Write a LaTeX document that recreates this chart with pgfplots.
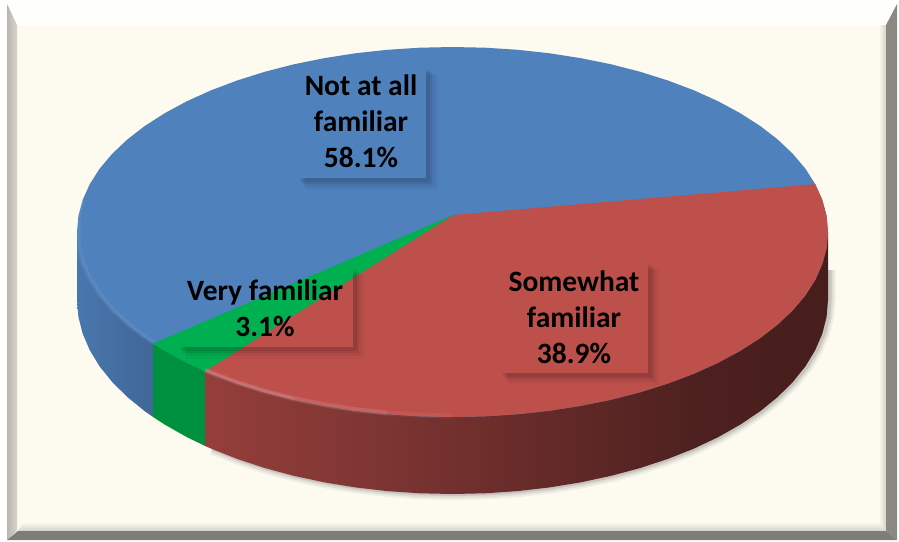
\documentclass[border=0pt]{standalone}
\usepackage{fontspec}
\setmainfont{Carlito}
\usepackage{pgfplots}
\usepackage{pgfplotstable}
\pgfplotsset{compat=1.18}

\definecolor{cream}{HTML}{FDFAF0}
\definecolor{pieblue}{HTML}{4F81BD}
\definecolor{piered}{HTML}{BE504C}
\definecolor{piegreen}{HTML}{00B050}
\definecolor{sidegreen}{HTML}{00913F}

\pgfdeclarehorizontalshading{redside}{100bp}{
  color(0bp)=(piered!78!black); color(25bp)=(piered!78!black);
  color(37bp)=(piered!68!black); color(53bp)=(piered!52!black);
  color(65bp)=(piered!40!black); color(75bp)=(piered!37!black);
  color(100bp)=(piered!37!black)}

% top ellipse, outline
\pgfplotstableread{
x y
828.0 232.0
826.6 248.1
822.3 264.1
815.2 279.9
805.4 295.3
792.8 310.2
777.7 324.5
760.1 338.1
740.1 350.9
718.0 362.8
693.9 373.7
667.9 383.5
640.3 392.2
611.2 399.7
580.9 405.8
549.7 410.7
517.7 414.2
485.2 416.3
452.5 417.0
419.8 416.3
387.3 414.2
355.3 410.7
324.1 405.8
293.8 399.7
264.7 392.2
237.1 383.5
211.1 373.7
187.0 362.8
164.9 350.9
144.9 338.1
127.3 324.5
112.2 310.2
99.6 295.3
89.8 279.9
82.7 264.1
78.4 248.1
77.0 232.0
78.4 215.9
82.7 199.9
89.8 184.1
99.6 168.7
112.2 153.8
127.3 139.5
144.9 125.9
164.9 113.1
187.0 101.2
211.1 90.3
237.1 80.5
264.7 71.8
293.8 64.3
324.1 58.2
355.3 53.3
387.3 49.8
419.8 47.7
452.5 47.0
485.2 47.7
517.7 49.8
549.7 53.3
580.9 58.2
611.2 64.3
640.3 71.8
667.9 80.5
693.9 90.3
718.0 101.2
740.1 113.1
760.1 125.9
777.7 139.5
792.8 153.8
805.4 168.7
815.2 184.1
822.3 199.9
826.6 215.9
}\topface

% red slice
\pgfplotstableread{
x y
453.0 215.0
815.2 184.1
822.3 199.9
826.6 215.9
828.0 232.0
826.6 248.1
822.3 264.1
815.2 279.9
805.4 295.3
792.8 310.2
777.7 324.5
760.1 338.1
740.1 350.9
718.0 362.8
693.9 373.7
667.9 383.5
640.3 392.2
611.2 399.7
580.9 405.8
549.7 410.7
517.7 414.2
485.2 416.3
452.5 417.0
419.8 416.3
387.3 414.2
355.3 410.7
324.1 405.8
293.8 399.7
264.7 392.2
237.1 383.5
211.1 373.7
205.0 371.2
}\topred

% green slice
\pgfplotstableread{
x y
453.0 215.0
205.0 371.2
187.0 362.8
164.9 350.9
153.0 343.6
}\topgreen

% rim, blue part
\pgfplotstableread{
x y
153.0 343.6
153.0 416.9
144.9 411.3
127.3 397.0
112.2 382.0
99.6 366.4
89.8 350.2
82.7 333.7
78.4 316.9
77.0 300.0
77.0 232.0
}\sideblue

% rim, green part
\pgfplotstableread{
x y
205.0 371.2
205.0 445.9
187.0 437.2
164.9 424.7
153.0 416.9
153.0 343.6
}\sidegreentbl

% rim, red part
\pgfplotstableread{
x y
828.0 232.0
828.0 300.0
826.6 316.9
822.3 333.7
815.2 350.2
805.4 366.4
792.8 382.0
777.7 397.0
760.1 411.3
740.1 424.7
718.0 437.2
693.9 448.6
667.9 458.9
640.3 468.0
611.2 475.8
580.9 482.3
549.7 487.4
517.7 491.1
485.2 493.3
452.5 494.0
419.8 493.3
387.3 491.1
355.3 487.4
324.1 482.3
293.8 475.8
264.7 468.0
237.1 458.9
211.1 448.6
205.0 445.9
205.0 371.2
}\sidered

% lower rim edge, casts the shadow
\pgfplotstableread{
x y
829.5 270.0
829.5 300.0
828.1 316.9
823.8 333.7
816.7 350.2
806.9 366.4
794.3 382.0
779.2 397.0
761.6 411.3
741.6 424.7
719.5 437.2
695.4 448.6
669.4 458.9
641.8 468.0
612.7 475.8
582.4 482.3
551.2 487.4
519.2 491.1
486.7 493.3
454.0 494.0
421.3 493.3
388.8 491.1
356.8 487.4
325.6 482.3
295.3 475.8
266.2 468.0
238.6 458.9
212.6 448.6
}\rimshadow

% highlight along the front edge, red
\pgfplotstableread{
x y
452.5 416.0
419.8 415.3
387.3 413.2
355.3 409.7
324.1 404.8
293.8 398.7
264.7 391.2
237.1 382.5
211.1 372.7
205.0 370.2
}\glowred

% highlight along the front edge, blue
\pgfplotstableread{
x y
153.0 342.6
144.9 337.1
127.3 323.5
112.2 309.2
99.6 294.3
89.8 278.9
82.7 263.1
78.4 247.1
78.0 232.0
78.4 215.9
82.7 199.9
}\glowblue

\newcommand{\boxshadow}[4]{%
  \draw[black,opacity=.03,line width=12pt] (axis cs:#1+7,#4+6) -- (axis cs:#3+6,#4+6) -- (axis cs:#3+6,#2+7);
  \draw[black,opacity=.05,line width=9pt] (axis cs:#1+6,#4+4.5) -- (axis cs:#3+4.5,#4+4.5) -- (axis cs:#3+4.5,#2+6);
  \draw[black,opacity=.07,line width=6pt] (axis cs:#1+4,#4+3) -- (axis cs:#3+3,#4+3) -- (axis cs:#3+3,#2+4);
  \draw[black,opacity=.08,line width=4pt] (axis cs:#1+2,#4+2) -- (axis cs:#3+2,#4+2) -- (axis cs:#3+2,#2+2);
}

\begin{document}
\begin{tikzpicture}
\begin{axis}[
    hide axis,
    scale only axis,
    width=899pt,
    height=541pt,
    xmin=0, xmax=899,
    ymin=0, ymax=541,
    y dir=reverse,
    clip=false,
    no markers,
]
% frame
\addplot[draw=none,fill=white] coordinates {(0,0) (899,0) (899,541) (0,541)};
\addplot[draw=none,fill=cream] coordinates {(17,25) (886,25) (886,531) (17,531)};
\addplot[draw=none,fill=white!70!cream] coordinates {(7,4) (897,4) (881,25) (17,25)};
\addplot[draw=none,left color=black!27!cream,right color=black!15!cream] coordinates {(7,4) (17,25) (17,531) (7,540)};
\addplot[draw=none,top color=cream,bottom color=black!16!cream] coordinates {(24,522) (879,522) (886,531) (18,531)};
\addplot[draw=none,left color=cream,right color=black!16!cream] coordinates {(879,25) (886,25) (886,531) (879,522)};
\addplot[draw=none,fill=black!45!cream] coordinates {(897,4) (886,25) (886,531) (897,540)};
\addplot[draw=none,fill=black!50!cream] coordinates {(7,540) (18,531) (886,531) (897,540)};

% shadow under the rim
\addplot[gray,opacity=.10,line width=12pt] table[x=x,y=y] {\rimshadow};
\addplot[gray,opacity=.15,line width=8pt] table[x=x,y=y] {\rimshadow};
\addplot[gray,opacity=.25,line width=4pt] table[x=x,y=y] {\rimshadow};

% rim
\addplot[draw=none,left color=pieblue!92!black,right color=pieblue!80!black] table[x=x,y=y] {\sideblue};
\addplot[draw=none,fill=sidegreen] table[x=x,y=y] {\sidegreentbl};
\addplot[draw=none,shade,shading=redside] table[x=x,y=y] {\sidered};

% top face
\addplot[draw=none,fill=pieblue] table[x=x,y=y] {\topface};
\addplot[draw=none,fill=piered] table[x=x,y=y] {\topred};
\addplot[draw=none,fill=piegreen] table[x=x,y=y] {\topgreen};

% soft highlights
\addplot[white,opacity=.05,line width=5pt] table[x=x,y=y] {\glowred};
\addplot[white,opacity=.07,line width=5pt,restrict x to domain=205:390] table[x=x,y=y] {\glowred};
\addplot[white,opacity=.09,line width=2.5pt,restrict x to domain=205:300] table[x=x,y=y] {\glowred};
\addplot[white,opacity=.06,line width=5pt] table[x=x,y=y] {\glowblue};

% labels
\boxshadow{298}{68}{426}{178}
\boxshadow{179}{268}{353}{347}
\boxshadow{501}{263}{648}{373}
\node[align=center,font=\fontsize{29.5}{36}\selectfont\bfseries,text=black] at (axis cs:361,121) {Not at all\\familiar\\58.1\%};
\node[align=center,font=\fontsize{29.5}{36}\selectfont\bfseries,text=black] at (axis cs:265,308) {Very familiar\\3.1\%};
\node[align=center,font=\fontsize{29.5}{36}\selectfont\bfseries,text=black] at (axis cs:574,317) {Somewhat\\familiar\\38.9\%};
\end{axis}
\end{tikzpicture}
\end{document}
